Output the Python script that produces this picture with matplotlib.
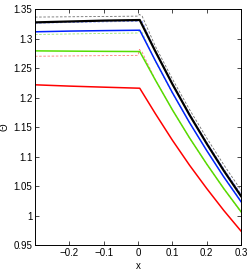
import matplotlib
matplotlib.use("Agg")
import matplotlib.pyplot as plt

plt.rcParams['font.family'] = ['Liberation Sans', 'DejaVu Sans']

# x samples
x_pts = [-0.3, -0.2, -0.1, 0.005, 0.05, 0.10, 0.15, 0.20, 0.25, 0.30]

# solid series
black = [1.328, 1.3295, 1.331, 1.332, 1.2794, 1.2233, 1.1709, 1.1222, 1.0760, 1.033]
blue  = [1.312, 1.3132, 1.3140, 1.3147, 1.2634, 1.2088, 1.1578, 1.1104, 1.0654, 1.0235]
green = [1.2796, 1.2792, 1.2788, 1.2785, 1.2306, 1.1796, 1.1319, 1.0876, 1.0456, 1.0065]
red   = [1.222, 1.2198, 1.2180, 1.2162, 1.1735, 1.1280, 1.0855, 1.0460, 1.0085, 0.9736]

# dashed series
xd_pts = [-0.3, -0.2, -0.1, 0.0, 0.004, 0.012, 0.05, 0.10, 0.15, 0.20, 0.25, 0.30]
gray_d  = [1.337, 1.3375, 1.338, 1.3386, 1.3415, 1.3386, 1.2880, 1.2320, 1.1800, 1.1318, 1.0860, 1.043]
blue_d  = [1.3265, 1.3278, 1.3289, 1.3298, 1.3330, 1.3300, 1.2800, 1.2245, 1.1728, 1.1248, 1.0793, 1.037]
green_d = [1.3074, 1.3083, 1.3092, 1.3100, 1.3140, 1.3110, 1.2620, 1.2078, 1.1574, 1.1106, 1.0663, 1.0251]
red_d   = [1.2705, 1.2710, 1.2715, 1.2720, 1.2820, 1.2775, 1.2310, 1.1795, 1.1316, 1.0872, 1.0451, 1.0059]

xticks = [-0.2, -0.1, 0, 0.1, 0.2, 0.3]
xtick_labels = ['\u22120.2', '\u22120.1', '0', '0.1', '0.2', '0.3']
yticks = [0.95, 1.0, 1.05, 1.1, 1.15, 1.2, 1.25, 1.3, 1.35]
ytick_labels = ['0.95', '1', '1.05', '1.1', '1.15', '1.2', '1.25', '1.3', '1.35']

fig = plt.figure(figsize=(2.49, 2.77), dpi=100)
ax = fig.add_axes([0.1406, 0.1155, 0.8274, 0.8505])

ax.plot(xd_pts, gray_d, color='#707070', lw=0.6, ls=(0, (3, 2)))
ax.plot(xd_pts, blue_d, color='#7a8cff', lw=0.6, ls=(0, (3, 2)))
ax.plot(xd_pts, green_d, color='#9be870', lw=0.6, ls=(0, (3, 2)))
ax.plot(xd_pts, red_d, color='#ff7a7a', lw=0.6, ls=(0, (3, 2)))

ax.plot(x_pts, red, color='#ff0000', lw=1.1)
ax.plot(x_pts, green, color='#55dd00', lw=1.1)
ax.plot(x_pts, blue, color='#0022ff', lw=1.1)
ax.plot(x_pts, black, color='#000000', lw=1.6)

ax.set_xlim(-0.3, 0.3)
ax.set_ylim(0.95, 1.35)
ax.set_xticks(xticks)
ax.set_xticklabels(xtick_labels)
ax.set_yticks(yticks)
ax.set_yticklabels(ytick_labels)
ax.tick_params(direction='in', length=3, width=0.5, top=True, right=True,
               labelsize=7, pad=2)
for s in ax.spines.values():
    s.set_linewidth(0.7)
ax.set_xlabel('x', fontsize=7, labelpad=2)
ax.set_ylabel('\u0398', fontsize=7)
ax.yaxis.set_label_coords(-0.125, 0.5)

fig.savefig('out.png', dpi=100)
